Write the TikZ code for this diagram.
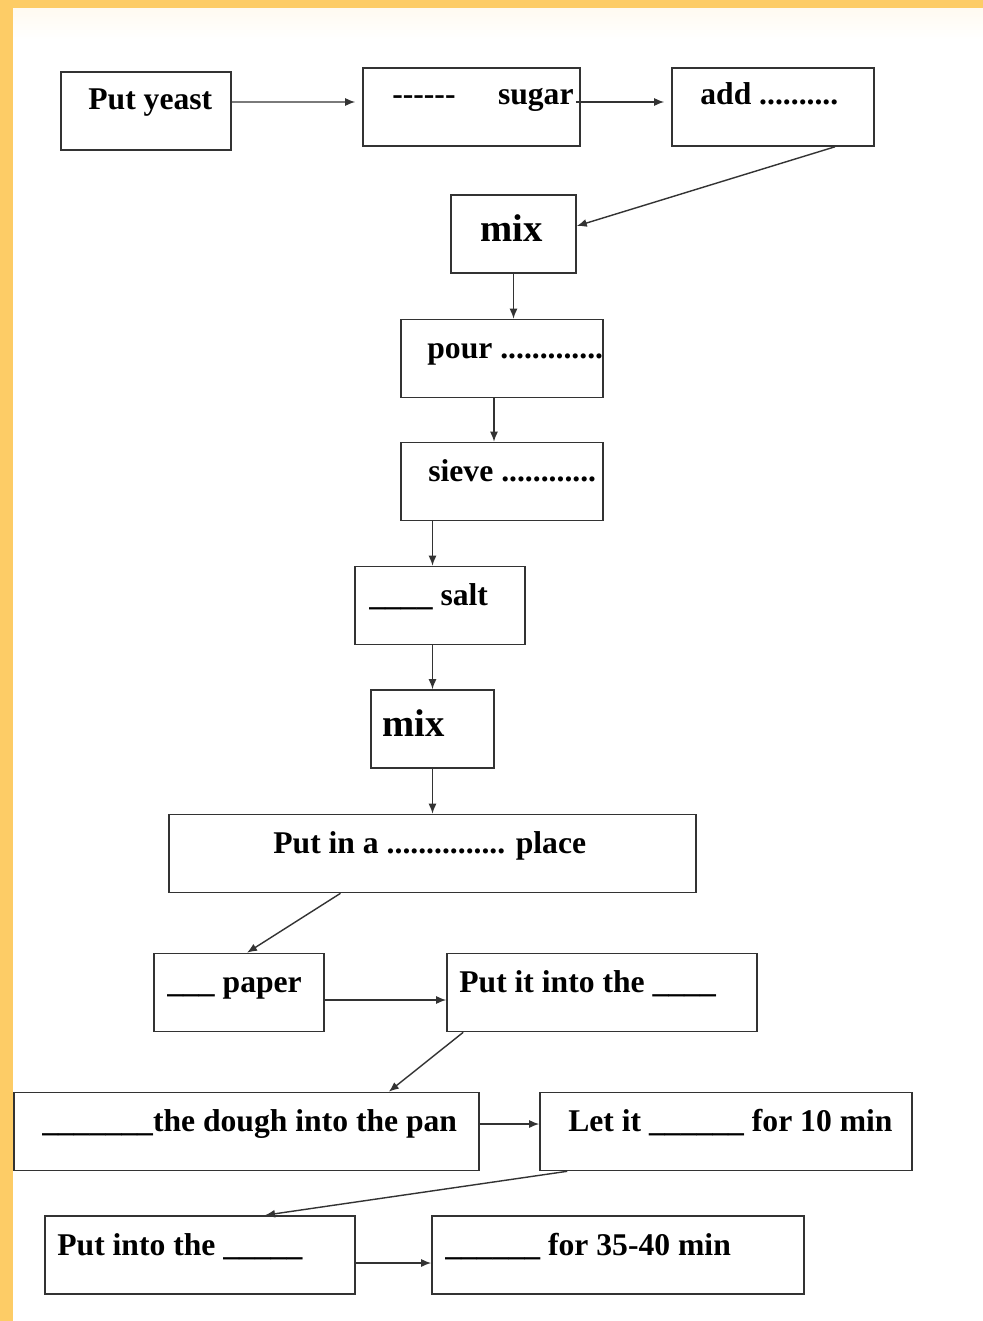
\documentclass[tikz,border=0pt]{standalone}
\usepackage{fontspec}
\setmainfont{Liberation Serif}
\usepackage{tikz}
\usetikzlibrary{shapes,arrows,arrows.meta,positioning}
\definecolor{framecol}{RGB}{253,204,102}
\tikzstyle{box} = [rectangle, draw=black!80, line width=0.9pt, minimum height=78*0.02cm, inner sep=0pt]
\tikzstyle{wd} = [minimum width=#1*0.02cm]
\tikzstyle{txt} = [anchor=base west, inner sep=0pt, font=\bfseries\fontsize{18}{20}\selectfont]
\tikzstyle{big} = [anchor=base west, inner sep=0pt, font=\bfseries\fontsize{22}{24}\selectfont]
\tikzstyle{line} = [draw, black!80, line width=0.8pt, -{Latex[length=2mm, width=1.6mm]}]

\begin{document}
\begin{tikzpicture}[x=0.02cm, y=-0.02cm]
			\useasboundingbox (0,0) rectangle (983,1321);
			\fill [framecol] (0,0) rectangle (983,1321);
			\fill [white] (13,9) rectangle (983,1321);
			\shade [top color=framecol!9, bottom color=white] (13,9) rectangle (983,40);

			\node [box, wd=170] (yeast) at (146,111) {};
			\node [box, wd=217] (sugar) at (471.5,107) {};
			\node [box, wd=202] (add) at (773,107) {};
			\node [box, wd=125] (mixa) at (513.5,234) {};
			\node [box, wd=202] (pour) at (502,358.5) {};
			\node [box, wd=202] (sieve) at (502,481.5) {};
			\node [box, wd=170] (salt) at (440,605.5) {};
			\node [box, wd=123] (mixb) at (432.5,729) {};
			\node [box, wd=527] (place) at (432.5,853.5) {};
			\node [box, wd=170] (paper) at (239,992.5) {};
			\node [box, wd=310] (oven) at (602,992.5) {};
			\node [box, wd=465] (dough) at (246.5,1131.5) {};
			\node [box, wd=372] (rise) at (726,1131.5) {};
			\node [box, wd=310] (bake) at (200,1255) {};
			\node [box, wd=372] (time) at (618,1255) {};

			\node [txt] (tyeast) at (88,110) {Put yeast};
			\node [txt] (tsugar) at (392,105) {-{}-{}-{}-{}-{}-\hspace{0.85cm}sugar};
			\node [txt] (tadd) at (700,105) {add ..........};
			\node [big] (tmixa) at (480,241) {mix};
			\node [txt] (tpour) at (427,358) {pour .............};
			\node [txt] (tsieve) at (428,481) {sieve ............};
			\node [txt] (tsalt) at (369,605) {\_\_\_\_ salt};
			\node [big] (tmixb) at (382,736) {mix};
			\node [txt] (tplace) at (273,853) {Put in a ............... place};
			\node [txt] (tpaper) at (167,992) {\_\_\_ paper};
			\node [txt] (toven) at (459,992) {Put it into the \_\_\_\_};
			\node [txt] (tdough) at (42,1131) {\_\_\_\_\_\_\_the dough into the pan};
			\node [txt] (trise) at (568,1131) {Let it \_\_\_\_\_\_ for 10 min};
			\node [txt] (tbake) at (57,1255) {Put into the \_\_\_\_\_};
			\node [txt] (ttime) at (445,1255) {\_\_\_\_\_\_ for 35-40 min};

			\path [line, shorten >=4pt] ([yshift=0.18cm]yeast.east) -- ([yshift=0.1cm]sugar.west);
			\path [line, shorten >=4pt] ([xshift=-0.1cm, yshift=0.1cm]sugar.east) -- ([yshift=0.1cm]add.west);
			\path [line] ([xshift=1.24cm]add.south) -- ([yshift=0.16cm]mixa.east);
			\path [line] (mixa.south) -- (mixa.south |- pour.north);
			\path [line] ([xshift=-0.16cm]pour.south) -- ([xshift=-0.16cm]sieve.north);
			\path [line] (sieve.south -| mixb) -- (salt.north -| mixb);
			\path [line] (salt.south -| mixb) -- (mixb.north);
			\path [line] (mixb) -- (place);
			\path [line] ([xshift=-1.84cm]place.south) -- ([xshift=0.16cm]paper.north);
			\path [line] ([yshift=-0.15cm]paper.east) -- ([yshift=-0.15cm]oven.west);
			\path [line] ([xshift=0.34cm]oven.south west) -- ([xshift=-1.82cm]dough.north east);
			\path [line] ([yshift=0.15cm]dough.east) -- ([yshift=0.15cm]rise.west);
			\path [line] ([xshift=0.56cm]rise.south west) -- ([xshift=1.3cm]bake.north);
			\path [line] ([yshift=-0.16cm]bake.east) -- ([yshift=-0.16cm]time.west);
		\end{tikzpicture}
\end{document}
